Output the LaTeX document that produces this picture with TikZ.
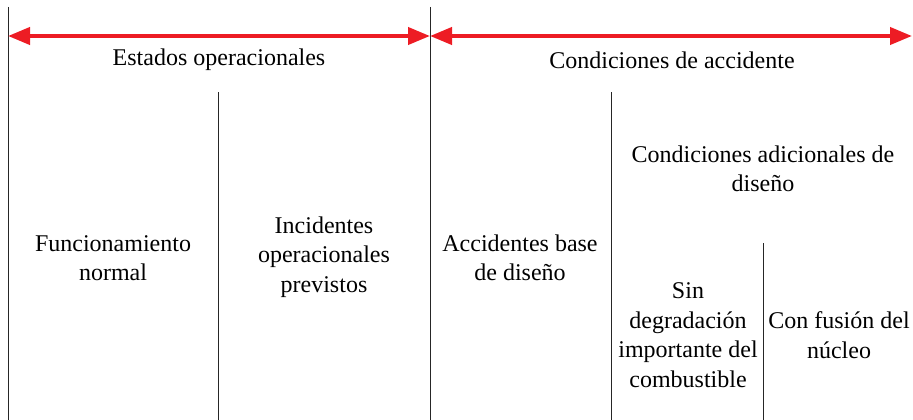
\documentclass[tikz,border=0pt]{standalone}
\usepackage{fontspec}
\setmainfont{LiberationSerif}[Extension=.ttf,UprightFont=*-Regular,BoldFont=*-Bold]
\usetikzlibrary{arrows.meta}
\definecolor{arrowred}{RGB}{237,28,36}
\tikzset{
    divider/.style={draw=black!85,line width=0.8pt},
    span/.style={arrowred,line width=4pt,{Triangle[length=22pt,width=17pt]}-{Triangle[length=22pt,width=17pt]}},
    label/.style={align=center,font=\rmfamily\fontsize{24}{29.5}\selectfont,inner sep=0pt}
}
\begin{document}
\begin{tikzpicture}[x=1pt,y=-1pt]
        \useasboundingbox (0,0) rectangle (913,420);
        % column dividers
        \coordinate (leftTop) at (8,7);
        \coordinate (midTop) at (430,7);
        \coordinate (rightEnd) at (912,36);
        \draw[divider] (leftTop) -- (8,420);
        \draw[divider] (midTop) -- (430,420);
        \draw[divider] (218,92) -- (218,420);
        \draw[divider] (611,92) -- (611,420);
        \draw[divider] (763,243) -- (763,420);
        % spans
        \coordinate (leftArr) at (8,36);
        \coordinate (midArr) at (430,36);
        \draw[span] (leftArr) -- (midArr);
        \draw[span] (midArr) -- (rightEnd);
        % labels
        \node[label] (estados) at (219,60) {Estados operacionales};
        \node[label] (condiciones) at (672,60) {Condiciones de accidente};
        \node[label] (funcionamiento) at (113,258) {Funcionamiento\\normal};
        \node[label] (incidentes) at (324,257) {Incidentes\\operacionales\\previstos};
        \node[label] (accidentes) at (520,258) {Accidentes base\\de diseño};
        \node[label] (adicionales) at (763,169) {Condiciones adicionales de\\diseño};
        \node[label] (sindeg) at (688,335) {Sin\\degradación\\importante del\\combustible};
        \node[label] (fusion) at (839,335) {Con fusión del\\núcleo};
    \end{tikzpicture}
\end{document}
